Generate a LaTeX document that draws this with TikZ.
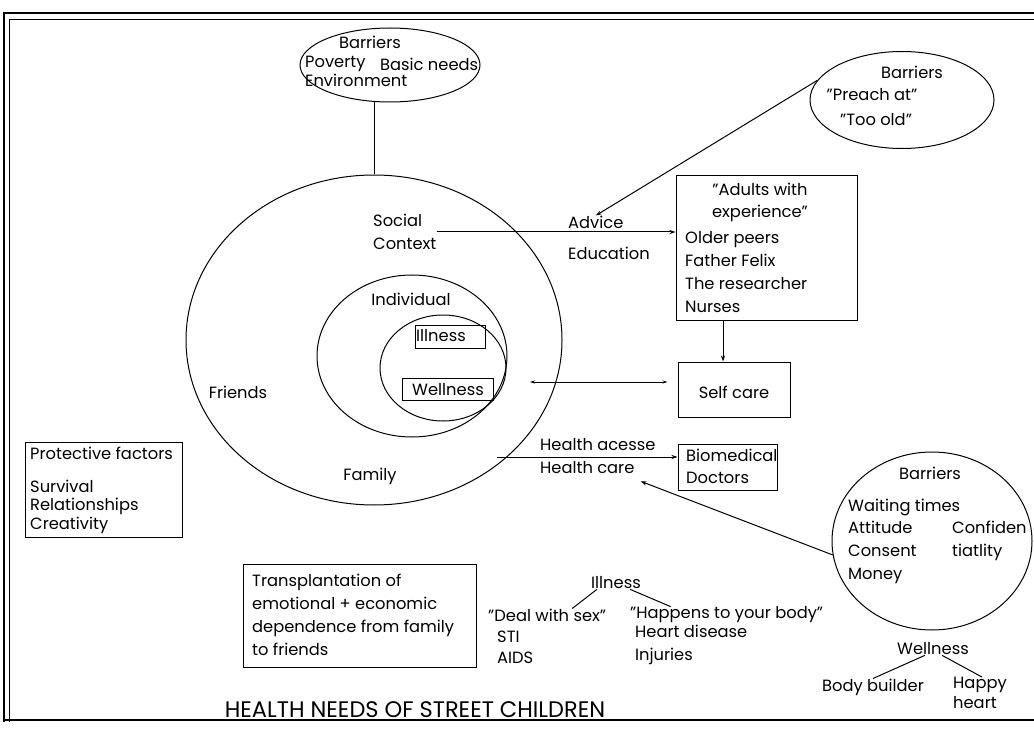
\documentclass[tikz,border=0pt]{standalone}
\usepackage{fontspec}
\setmainfont{Poppins}
\usetikzlibrary{shapes.geometric,arrows.meta}
\begin{document}
\begin{tikzpicture}[x=1pt,y=-1pt,
  lbl/.style={inner sep=0pt, font=\fontsize{16.3}{23}\selectfont},
  ll/.style={lbl, anchor=west, align=left},
  box/.style={draw, line width=1pt, inner sep=0pt},
  oval/.style={draw, ellipse, line width=1pt, inner sep=0pt},
  arr/.style={line width=1pt, -{Stealth[length=6pt,width=4pt]}},
  plain/.style={line width=1pt}]
\useasboundingbox (0,0) rectangle (1034,730);
\fill[white] (0,0) rectangle (1034,730);
% frame
\draw[line width=2.2pt] (4,722) -- (4,13) -- (1040,13);
\draw[line width=0.8pt] (9,722) -- (9,19) -- (1040,19);
\draw[line width=2pt] (4,720) -- (1040,720);

% circles
\node[oval, minimum width=376, minimum height=330] (bigc) at (374,340) {};
\node[oval, minimum width=190, minimum height=162] (midc) at (412,356) {};
\node[oval, minimum width=126, minimum height=106] (innc) at (443,368) {};
\node[box, minimum width=70, minimum height=23] (illbox) at (450,336.5) {};
\node[lbl] (illt) at (441,336) {Illness};
\node[box, minimum width=91, minimum height=22] (wellbox) at (447.5,389) {};
\node[lbl] (wellt) at (448,390) {Wellness};
\node[lbl] (indiv) at (411,299) {Individual};
\node[ll] (social) at (373,232) {Social\\Context};
\node[lbl] (friends) at (238,392) {Friends};
\node[lbl] (family) at (370,476) {Family};

% top ellipse
\node[oval, minimum width=180, minimum height=74] (topell) at (390,65) {};
\node[lbl] (tbar) at (370,42) {Barriers};
\node[ll, font=\fontsize{16.3}{19}\selectfont] (tpov) at (305,71.5) {Poverty\\Environment};
\node[ll] (tbasic) at (380,64) {Basic needs};
\draw[plain] (bigc.north |- topell.south) -- (bigc.north);

% top-right ellipse
\node[oval, minimum width=184, minimum height=97] (trell) at (902,100) {};
\node[lbl] (trbar) at (912,72) {Barriers};
\node[lbl] (trpre) at (872,95) {"Preach at"};
\node[lbl] (trtoo) at (876,120) {"Too old"};

% advice / education
\node[ll] (advice) at (568,222) {Advice};
\node[ll] (educ) at (568,253) {Education};
\draw[arr] (trell.167) -- (advice.north);

% adults box
\node[box, minimum width=181, minimum height=144] (adults) at (766.5,248) {};
\node[lbl, align=center, font=\fontsize{16.3}{22}\selectfont] (adultsT) at (760,202) {"Adults with\\experience"};
\node[ll] (adultsL) at (685,272.5) {Older peers\\Father Felix\\The researcher\\Nurses};
\draw[arr] (social.east) -- (social.east -| adults.west);

% self care
\node[box, minimum width=112, minimum height=55] (selfcare) at (734,389.5) {};
\node[lbl] (selft) at (734,392) {Self care};
\draw[arr] ([xshift=-11pt]selfcare.north |- adults.south) -- ([xshift=-11pt]selfcare.north);
\coordinate (scstart) at (530,382);
\draw[line width=1pt, {Stealth[length=5pt,width=3pt]}-{Stealth[length=5pt,width=3pt]}, shorten >=10pt] (scstart) -- (scstart -| selfcare.west);

% health access
\node[box, minimum width=99, minimum height=46] (bio) at (727.5,467) {};
\node[ll, font=\fontsize{16.3}{22}\selectfont] (biot) at (686,466) {Biomedical\\Doctors};
\node[ll] (hacc) at (540,445) {Health acesse};
\node[ll] (hcare) at (540,468) {Health care};
\coordinate (hstart) at (497,457);
\draw[arr] (hstart) -- (hstart -| bio.west);

% protective factors
\node[box, minimum width=157, minimum height=95] (prot) at (103.5,489.5) {};
\node[ll] (prott) at (30,453) {Protective factors};
\node[ll, font=\fontsize{16.3}{18.5}\selectfont] (protl) at (30,506.5) {Survival\\Relationships\\Creativity};

% bottom-right ellipse
\node[oval, minimum width=200, minimum height=178] (brell) at (932,541) {};
\node[lbl] (brbar) at (930,473) {Barriers};
\node[ll] (brwait) at (848,507) {Waiting times};
\node[ll] (brlist) at (848,552) {Attitude\\Consent\\Money};
\node[ll] (brconf) at (952,541) {Confiden\\tiatlity};
\draw[arr] (brell.188.5) -- ([shift={(6,7)}]hcare.south east);

% transplantation box
\node[box, minimum width=233, minimum height=103] (trans) at (359.5,615.5) {};
\node[ll] (transt) at (252,615) {Transplantation of\\emotional + economic\\dependence from family\\to friends};

% illness tree
\node[lbl] (ill) at (616,583) {Illness};
\node[ll] (dws) at (488,615) {"Deal with sex"};
\node[ll, font=\fontsize{16.3}{21}\selectfont] (sti) at (497,647.5) {STI\\AIDS};
\node[ll] (hyb) at (630,615) {"Happens to your body"};
\node[ll] (heart) at (635,645) {Heart disease\\Injuries};
\draw[plain] ([xshift=-19pt]ill.south) -- ([xshift=25pt]dws.north);
\draw[plain] ([xshift=14pt]ill.south) -- ([xshift=-56pt]hyb.north);

% wellness tree
\node[lbl] (well) at (933,649) {Wellness};
\node[lbl] (bb) at (873,687) {Body builder};
\node[ll, font=\fontsize{16.3}{20}\selectfont] (happy) at (953,693) {Happy\\heart};
\draw[plain] ([xshift=-8pt]well.south) -- (bb.north);
\draw[plain] ([xshift=9pt]well.south) -- ([xshift=2pt]happy.north);

% title
\node[lbl, font=\fontsize{22.5}{26}\selectfont] (title) at (415,710) {HEALTH NEEDS OF STREET CHILDREN};
\end{tikzpicture}
\end{document}
